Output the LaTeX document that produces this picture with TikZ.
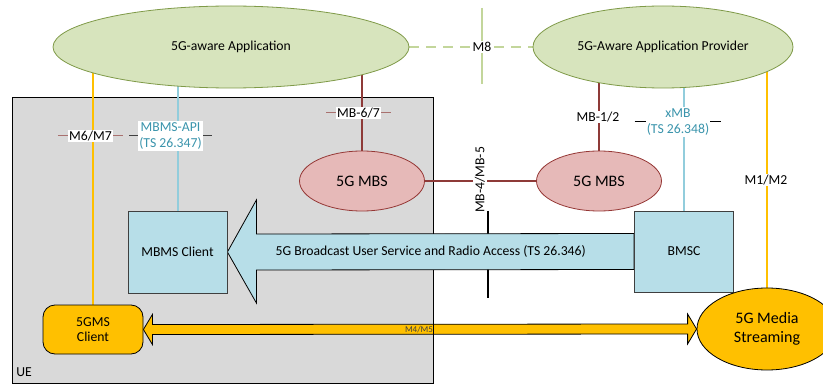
\documentclass[tikz,border=0pt]{standalone}
\usepackage{fontspec}
\setmainfont{Carlito}
\usepackage{tikz}
\usetikzlibrary{calc,shapes.geometric,backgrounds}
\definecolor{appfill}{HTML}{D7E4BD}
\definecolor{appline}{HTML}{7F9A48}
\definecolor{m8green}{HTML}{C3D69B}
\definecolor{mbsfill}{HTML}{E6B9B8}
\definecolor{mbsline}{HTML}{953735}
\definecolor{brownline}{HTML}{8E3A38}
\definecolor{tickred}{HTML}{A9716F}
\definecolor{tickgray}{HTML}{404040}
\definecolor{bluefill}{HTML}{B7DEE8}
\definecolor{blueline}{HTML}{92CDDC}
\definecolor{boxline}{HTML}{3F3F3F}
\definecolor{apiteal}{HTML}{3A94AC}
\definecolor{gold}{HTML}{FFC000}
\definecolor{uegray}{HTML}{D9D9D9}

\begin{document}
\begin{tikzpicture}[x=1pt, y=-1pt,
    font=\fontsize{13.7}{16}\selectfont,
    greenell/.style={ellipse, draw=appline, fill=appfill, line width=0.8pt, inner sep=0pt, minimum height=82},
    mbs/.style={ellipse, draw=mbsline, fill=mbsfill, line width=0.8pt, inner sep=0pt,
                minimum width=125, minimum height=60, font=\fontsize{16}{19}\selectfont},
    bluebox/.style={rectangle, draw=boxline, fill=bluefill, line width=0.8pt, minimum width=99, minimum height=82},
    lbl/.style={fill=white, inner sep=1pt},
    api/.style={lbl, text=apiteal, align=center, font=\fontsize{13.7}{16.5}\selectfont},
    wire/.style={line width=2pt}]
\useasboundingbox (0,0) rectangle (823,385);

% top row
\node[greenell, minimum width=356] (app) at (231,47) {5G-aware Application};
\node[greenell, minimum width=260] (prov) at (663,47) {5G-Aware Application Provider};

% network side and UE side
\node[mbs] (mbsA) at (362,181) {5G MBS};
\node[mbs] (mbsB) at (599,181) {5G MBS};
\node[bluebox] (mbms) at (177.5,252) {MBMS Client};
\node[bluebox, minimum height=81] (bmsc) at (684,251.5) {BMSC};
\node[rectangle, rounded corners=12, draw, fill=gold, line width=0.8pt, align=center,
      minimum width=100, minimum height=49, font=\fontsize{13.7}{15}\selectfont] (gms) at (93,329.5) {5GMS\\Client};
\node[ellipse, draw, fill=gold, line width=0.8pt, inner sep=0pt, align=center,
      minimum width=140, minimum height=82, font=\fontsize{16}{19}\selectfont] (media) at (767,329) {5G Media\\Streaming};

% reference point labels
\node[lbl] (m8) at (482,47) {M8};
\node[lbl] (m67) at (90.5,136) {M6/M7};
\node[api] (mbmsapi) at (170.5,136) {MBMS-API\\(TS 26.347)};
\node[lbl] (mb67) at (358.5,113) {MB-6/7};
\node[lbl] (mb12) at (598,117) {MB-1/2};
\node[api] (xmb) at (678,122) {xMB\\(TS 26.348)};
\node[lbl] (m12) at (766,180) {M1/M2};
\node[lbl, rotate=90, inner sep=2pt] (mb45) at (480,180) {MB-4/MB-5};
\node (ue) at (24,372) {UE};
\node[font=\fontsize{9}{10}\selectfont, text=black!75] (m45) at (419,330) {M4/M5};
\node (bcast) at ($(mbms.east)!0.5!(bmsc.west)$) {5G Broadcast User Service and Radio Access (TS 26.346)};

\coordinate (m8top) at ($(482,8)$);
\coordinate (m8bot) at ($(482,84)$);
\coordinate (sepT) at ($(488,211)$);
\coordinate (sepB) at ($(488,298)$);

\begin{scope}[on background layer]
\fill[uegray] (12,98) rectangle (433,383);
\draw[fill=gold, line width=0.8pt] (gms.east) -- ++(9,-15) -- ++(0,10) -- ($(media.west)+(-9,-5)$) -- ++(0,-10)
    -- (media.west) -- ++(-9,15) -- ++(0,-10) -- ($(gms.east)+(9,5)$) -- ++(0,10) -- cycle;
\draw[line width=1pt] (12,98) rectangle (433,383);

\draw[wire, m8green, dash pattern=on 10pt off 7pt] (app) -- (prov);
\draw[m8green, line width=1.5pt] (m8top) -- (m8bot);
\draw[wire, gold] (gms) -- (gms |- app);
\draw[wire, blueline] (mbms) -- (mbms |- app);
\draw[wire, brownline] (mbsA) -- (mbsA |- app);
\draw[wire, brownline] (mbsA) -- (mbsB);
\draw[wire, brownline] (mbsB) -- (mbsB |- prov);
\draw[wire, blueline] (bmsc) -- (bmsc |- prov);
\draw[wire, gold] (media) -- (media |- prov);

\draw[tickred, line width=1pt] ($(m67.west)-(10,0)$) -- ($(m67.east)+(10,0)$);
\draw[tickgray, line width=1pt] ($(mbmsapi.west)-(9,0)$) -- ($(mbmsapi.east)+(9,0)$);
\draw[tickred, line width=1pt] ($(mb67.west)-(10,0)$) -- ($(mb67.east)+(10,0)$);
\draw[line width=1pt] ($(xmb.west)-(11,0)$) -- ($(xmb.east)+(11,0)$);

\draw[line width=2.2pt] (sepT) -- (sepB);
\draw[fill=bluefill, line width=0.8pt] (mbms.east) -- ++(29,-52) -- ++(0,34) -- ($(bmsc.west)+(0,-18)$)
    -- ($(bmsc.west)+(0,18)$) -- ($(mbms.east)+(29,18)$) -- ++(0,33) -- cycle;
\end{scope}
\end{tikzpicture}
\end{document}
